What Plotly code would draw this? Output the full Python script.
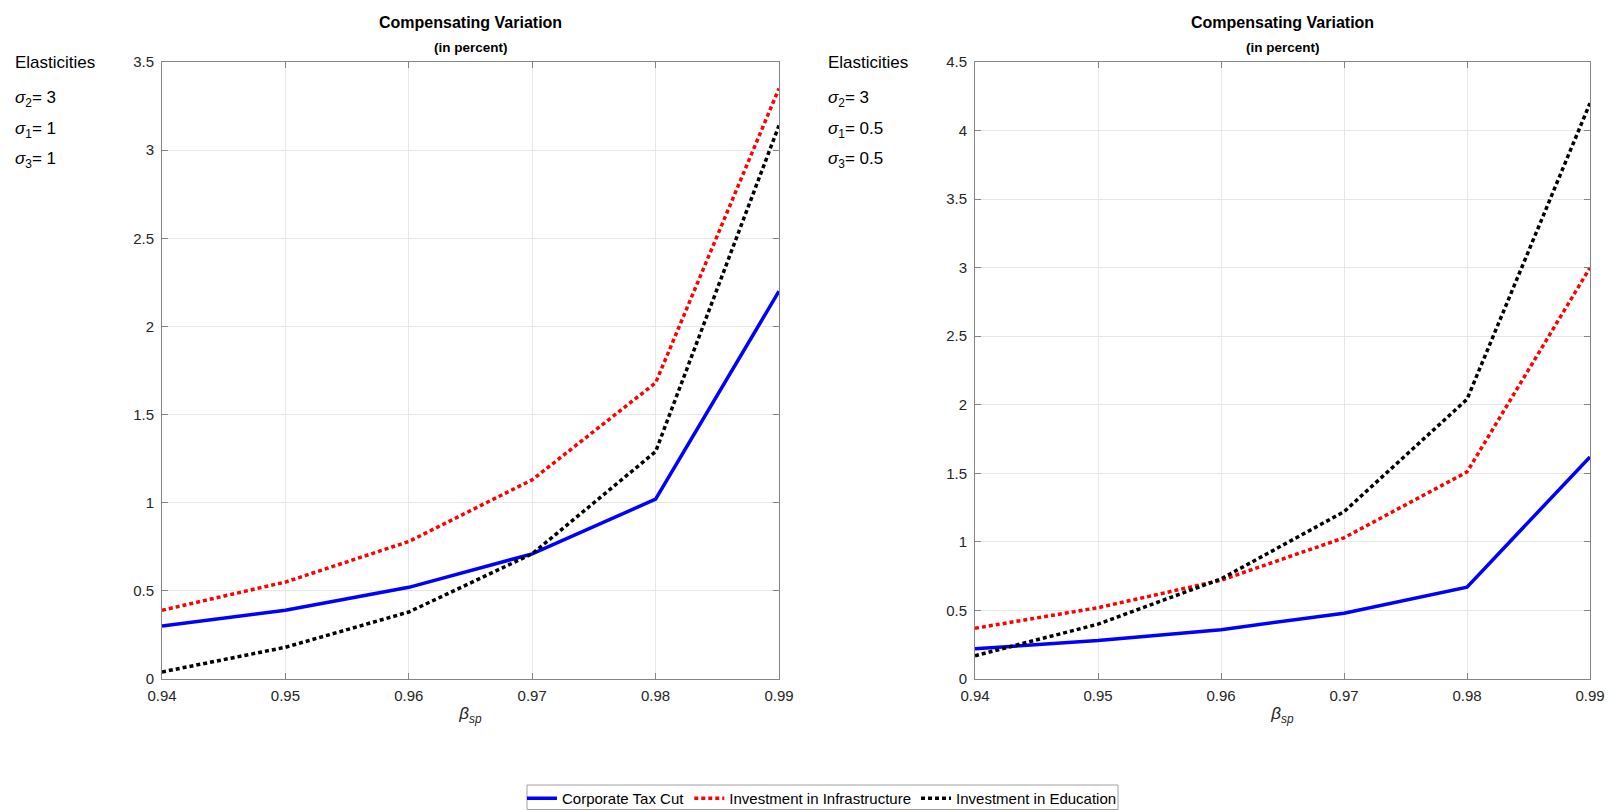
import plotly.graph_objects as go

beta = [0.94, 0.95, 0.96, 0.97, 0.98, 0.99]

# Left panel (sigma2=3, sigma1=1, sigma3=1)
left_tax = [0.30, 0.39, 0.52, 0.71, 1.02, 2.20]
left_infra = [0.39, 0.55, 0.78, 1.13, 1.68, 3.35]
left_edu = [0.04, 0.18, 0.38, 0.71, 1.29, 3.14]

# Right panel (sigma2=3, sigma1=0.5, sigma3=0.5)
right_tax = [0.22, 0.28, 0.36, 0.48, 0.67, 1.62]
right_infra = [0.37, 0.52, 0.72, 1.03, 1.51, 3.00]
right_edu = [0.17, 0.40, 0.73, 1.22, 2.04, 4.20]

series_names = ["Corporate Tax Cut", "Investment in Infrastructure", "Investment in Education"]

x_ticks = [0.94, 0.95, 0.96, 0.97, 0.98, 0.99]
x_ticktext = ["0.94", "0.95", "0.96", "0.97", "0.98", "0.99"]
left_yticks = [0, 0.5, 1, 1.5, 2, 2.5, 3, 3.5]
left_yticktext = ["0", "0.5", "1", "1.5", "2", "2.5", "3", "3.5"]
right_yticks = [0, 0.5, 1, 1.5, 2, 2.5, 3, 3.5, 4, 4.5]
right_yticktext = ["0", "0.5", "1", "1.5", "2", "2.5", "3", "3.5", "4", "4.5"]

left_elast = ["<i>σ</i><sub>2</sub>= 3", "<i>σ</i><sub>1</sub>= 1", "<i>σ</i><sub>3</sub>= 1"]
right_elast = ["<i>σ</i><sub>2</sub>= 3", "<i>σ</i><sub>1</sub>= 0.5", "<i>σ</i><sub>3</sub>= 0.5"]

W, H = 1609, 810
FONT = "Liberation Sans, Arial, Helvetica, sans-serif"
TXT = "#262626"

styles = [
    dict(color="#0000ff", width=3.5, dash="solid"),
    dict(color="#ff0000", width=3.5, dash="4px,3px"),
    dict(color="#000000", width=3.5, dash="4px,3px"),
]

fig = go.Figure()
for i, (ys, name) in enumerate(zip([left_tax, left_infra, left_edu], series_names)):
    fig.add_trace(go.Scatter(x=beta, y=ys, mode="lines", name=name, line=styles[i],
                             xaxis="x", yaxis="y", showlegend=True))
for i, (ys, name) in enumerate(zip([right_tax, right_infra, right_edu], series_names)):
    fig.add_trace(go.Scatter(x=beta, y=ys, mode="lines", name=name, line=styles[i],
                             xaxis="x2", yaxis="y2", showlegend=False))

def px_x(p):
    return p / W

def px_y(p):
    return 1 - p / H

axis_common = dict(
    showline=True, linecolor="#858585", linewidth=1, mirror="ticks",
    ticks="inside", ticklen=6, tickcolor="#858585", tickwidth=1,
    showgrid=True, gridcolor="#e6e6e6", gridwidth=1, zeroline=False,
    automargin=False,
    tickfont=dict(family=FONT, size=15, color=TXT),
)

xdom_l = [px_x(162), px_x(779)]
xdom_r = [px_x(975), px_x(1590)]
ydom = [px_y(679), px_y(62)]

xtitle = dict(text="<i>β<sub>sp</sub></i>", font=dict(family=FONT, size=17, color=TXT), standoff=4)

fig.update_layout(
    width=W, height=H,
    margin=dict(l=0, r=0, t=0, b=0, pad=0, autoexpand=False),
    paper_bgcolor="white", plot_bgcolor="white",
    font=dict(family=FONT, color=TXT),
    xaxis=dict(domain=xdom_l, range=[0.94, 0.99], tickvals=x_ticks, ticktext=x_ticktext,
               anchor="y", title=xtitle, ticklabelstandoff=3, **axis_common),
    yaxis=dict(domain=ydom, range=[0, 3.5], tickvals=left_yticks, ticktext=left_yticktext,
               anchor="x", ticklabelstandoff=4, **axis_common),
    xaxis2=dict(domain=xdom_r, range=[0.94, 0.99], tickvals=x_ticks, ticktext=x_ticktext,
                anchor="y2", title=xtitle, ticklabelstandoff=3, **axis_common),
    yaxis2=dict(domain=ydom, range=[0, 4.5], tickvals=right_yticks, ticktext=right_yticktext,
                anchor="x2", ticklabelstandoff=4, **axis_common),
    legend=dict(orientation="h", x=px_x(522), xanchor="left", y=-5 / H, yanchor="bottom",
                borderwidth=0, bgcolor="rgba(0,0,0,0)",
                font=dict(family=FONT, size=15, color="#000000"),
                itemwidth=30, tracegroupgap=0),
    shapes=[dict(type="rect", xref="paper", yref="paper",
                 x0=px_x(527), x1=px_x(1118), y0=px_y(809.5), y1=px_y(785),
                 line=dict(color="#a0a0a0", width=1), fillcolor="rgba(0,0,0,0)", layer="below")],
)

annotations = []
for cx in [(162 + 779) / 2, (975 + 1590) / 2]:
    annotations.append(dict(x=px_x(cx), y=px_y(23), xref="paper", yref="paper",
                            text="<b>Compensating Variation</b>", showarrow=False,
                            xanchor="center", yanchor="middle",
                            font=dict(family=FONT, size=16, color="#000000")))
    annotations.append(dict(x=px_x(cx), y=px_y(48), xref="paper", yref="paper",
                            text="<b>(in percent)</b>", showarrow=False,
                            xanchor="center", yanchor="middle",
                            font=dict(family=FONT, size=13.5, color="#000000")))

for x0, lines in [(13, left_elast), (826, right_elast)]:
    annotations.append(dict(x=px_x(x0), y=px_y(63), xref="paper", yref="paper",
                            text="Elasticities", showarrow=False, xanchor="left", yanchor="middle",
                            font=dict(family=FONT, size=17, color="#000000")))
    for k, t in enumerate(lines):
        annotations.append(dict(x=px_x(x0), y=px_y(99 + 30.5 * k), xref="paper", yref="paper",
                                text=t, showarrow=False, xanchor="left", yanchor="middle",
                                font=dict(family=FONT, size=17, color="#000000")))

fig.update_layout(annotations=annotations)

fig.write_html(
    "out.html",
    post_script="document.body.style.margin='0';document.body.style.overflow='hidden';"
                "document.documentElement.style.overflow='hidden';",
)
